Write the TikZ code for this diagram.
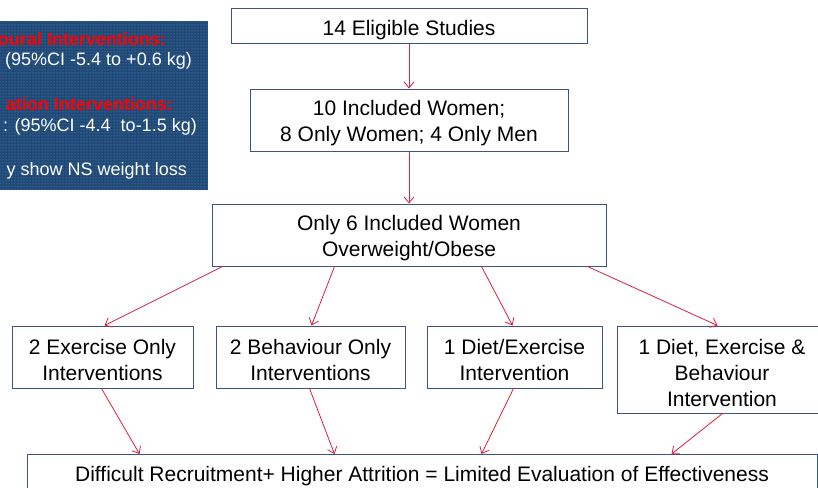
\documentclass[tikz,border=0pt]{standalone}
\usepackage{fontspec}
\setmainfont{Liberation Sans}
\usetikzlibrary{arrows.meta,patterns}
\definecolor{boxline}{HTML}{3B5488}
\definecolor{arrowred}{HTML}{E0203C}
\definecolor{panelblue}{HTML}{1F4A78}
\definecolor{paneldot}{HTML}{6F8FB5}
\newcommand{\boxstrut}{\rule{0pt}{22pt}}
\tikzset{
  flowbox/.style={draw=boxline, line width=1pt, fill=white, align=center, inner sep=0pt,
    font=\fontsize{21}{26}\selectfont},
  flowarrow/.style={draw=arrowred, line width=0.8pt, -{Straight Barb[length=6pt,width=10pt]}},
  paneltext/.style={inner sep=0pt, anchor=east, font=\fontsize{18}{22}\selectfont, text=white},
  panelhead/.style={inner sep=0pt, anchor=east, font=\fontsize{18}{22}\selectfont\bfseries, text=red},
}
\begin{document}
\begin{tikzpicture}[x=1pt,y=-1pt]
\useasboundingbox (0,0) rectangle (818,487);
\clip (0,0) rectangle (818,487);
\fill[white] (0,0) rectangle (818,487);
% left panel
\fill[panelblue] (-10,21) rectangle (208,190);
\fill[pattern=dots, pattern color=paneldot] (-10,21) rectangle (208,190);
\node[panelhead] (h1) at (166,39) {oural Interventions:};
\node[paneltext] (t1) at (192,61) {(95\%CI -5.4 to +0.6 kg)};
\node[panelhead] (h2) at (173,104) {ation Interventions:};
\node[paneltext] (t2) at (197,127) {: (95\%CI -4.4\ \ to-1.5 kg)};
\node[paneltext] (t3) at (187,171) {y show NS weight loss};
% boxes
\node[flowbox, minimum width=356pt, minimum height=35pt] (b1) at (409,26.5) {\boxstrut 14 Eligible Studies};
\node[flowbox, minimum width=318pt, minimum height=62pt] (b2) at (409,120) {\boxstrut 10 Included Women;\\8 Only Women; 4 Only Men};
\node[flowbox, minimum width=394pt, minimum height=62pt] (b3) at (409,235) {\boxstrut Only 6 Included Women\\Overweight/Obese};
\node[flowbox, minimum width=181pt, minimum height=62pt] (b4) at (102.5,357) {\boxstrut 2 Exercise Only\\Interventions};
\node[flowbox, minimum width=189pt, minimum height=62pt] (b5) at (310.5,357) {\boxstrut 2 Behaviour Only\\Interventions};
\node[flowbox, minimum width=175pt, minimum height=62pt] (b6) at (514.5,357) {\boxstrut 1 Diet/Exercise\\Intervention};
\node[flowbox, minimum width=210pt, minimum height=87pt] (b7) at (722,369.5) {\boxstrut 1 Diet, Exercise \&\\Behaviour\\Intervention};
\node[flowbox, anchor=north, minimum width=790pt, text height=15pt, text depth=4pt, inner ysep=11.5pt] (b8) at (422,454) {Difficult Recruitment+ Higher Attrition = Limited Evaluation of Effectiveness};
% arrows
\draw[flowarrow] (b1) -- (b2);
\draw[flowarrow] (b2) -- (b3);
\draw[flowarrow] ([xshift=11pt]b3.south west) -- ([xshift=93pt]b4.north west);
\draw[flowarrow] ([xshift=123pt]b3.south west) -- ([xshift=96pt]b5.north west);
\draw[flowarrow] ([xshift=270pt]b3.south west) -- ([xshift=86pt]b6.north west);
\draw[flowarrow] ([xshift=376pt]b3.south west) -- ([xshift=101pt]b7.north west);
\draw[flowarrow] ([xshift=90pt]b4.south west) -- ([xshift=113pt]b8.north west);
\draw[flowarrow] ([xshift=94pt]b5.south west) -- ([xshift=308pt]b8.north west);
\draw[flowarrow] ([xshift=87pt]b6.south west) -- ([xshift=455pt]b8.north west);
\draw[flowarrow] ([xshift=106pt]b7.south west) -- ([xshift=645pt]b8.north west);
\end{tikzpicture}
\end{document}
